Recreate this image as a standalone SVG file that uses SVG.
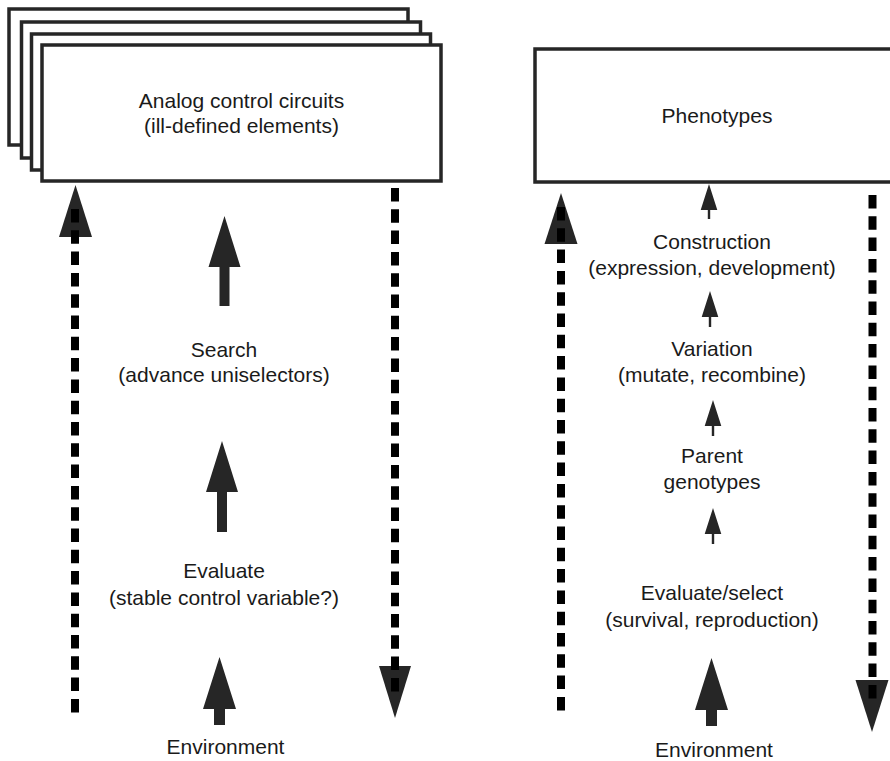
<svg xmlns="http://www.w3.org/2000/svg" width="890" height="761" viewBox="0 0 890 761">
<style>
.box{fill:#fff;stroke:#262626;stroke-width:3.5}
.t{font-family:"Liberation Sans",Arial,sans-serif;font-size:21px;text-anchor:middle;fill:#1a1a1a}
.head{fill:#262626}
.dash{stroke:#000;stroke-width:8;stroke-dasharray:13.5 7.8;fill:none}
</style>
<rect width="890" height="761" fill="#fff"/>
<g id="analog-circuits">
<rect class="box" x="9" y="9" width="399" height="136"/>
<rect class="box" x="21.5" y="22" width="399" height="136"/>
<rect class="box" x="31.5" y="34" width="399" height="136"/>
<rect class="box" x="42" y="45" width="399" height="136"/>
<text class="t" x="241.5" y="108">Analog control circuits</text>
<text class="t" x="241.5" y="133">(ill-defined elements)</text>
</g>
<g id="phenotypes">
<rect class="box" x="535" y="49" width="364" height="133"/>
<text class="t" x="717" y="123">Phenotypes</text>
</g>
<g id="search"><text class="t" x="224" y="357">Search</text><text class="t" x="224" y="382">(advance uniselectors)</text></g>
<g id="evaluate"><text class="t" x="224" y="578">Evaluate</text><text class="t" x="224" y="605">(stable control variable?)</text></g>
<g id="environment-left"><text class="t" x="225.5" y="754">Environment</text></g>
<g id="construction"><text class="t" x="712" y="249">Construction</text><text class="t" x="712" y="275">(expression, development)</text></g>
<g id="variation"><text class="t" x="712" y="356">Variation</text><text class="t" x="712" y="382">(mutate, recombine)</text></g>
<g id="parent-genotypes"><text class="t" x="712" y="463">Parent</text><text class="t" x="712" y="489">genotypes</text></g>
<g id="evaluate-select"><text class="t" x="712" y="600">Evaluate/select</text><text class="t" x="712" y="627">(survival, reproduction)</text></g>
<g id="environment-right"><text class="t" x="714" y="757">Environment</text></g>
<g id="connectors">
<!-- dashed arrows, left diagram -->
<polygon class="head" points="75.5,185 92,237 59,237"/>
<line class="dash" x1="75" y1="209" x2="75" y2="713"/>
<polygon class="head" points="379,666 411,666 395,718"/>
<line class="dash" x1="395" y1="188" x2="395" y2="693"/>
<!-- dashed arrows, right diagram -->
<polygon class="head" points="561,193 577.5,244 544.5,244"/>
<line class="dash" x1="561" y1="207" x2="561" y2="711"/>
<polygon class="head" points="855.5,680 888.5,680 872,732"/>
<line class="dash" x1="872.5" y1="195" x2="872.5" y2="699"/>
<!-- solid arrows, left diagram -->
<polygon class="head" points="224.5,216 240.5,267 229.5,267 229.5,306 219.5,306 219.5,267 208.5,267"/>
<polygon class="head" points="222,441 238,492 227,492 227,532 217,532 217,492 206,492"/>
<polygon class="head" points="219.5,657 236,709 225,709 225,725 214,725 214,709 203,709"/>
<!-- solid arrows, right diagram -->
<polygon class="head" points="711.5,658 728,710 717,710 717,726 706,726 706,710 695,710"/>
<polygon class="head" points="709,184 717.3,210 710.2,210 710.2,219 707.8,219 707.8,210 700.7,210"/>
<polygon class="head" points="710,291 718.3,317 711.2,317 711.2,327 708.8,327 708.8,317 701.7,317"/>
<polygon class="head" points="713,400 721.3,426 714.2,426 714.2,436 711.8,436 711.8,426 704.7,426"/>
<polygon class="head" points="713,508 721.3,534 714.2,534 714.2,544 711.8,544 711.8,534 704.7,534"/>
</g>
</svg>
